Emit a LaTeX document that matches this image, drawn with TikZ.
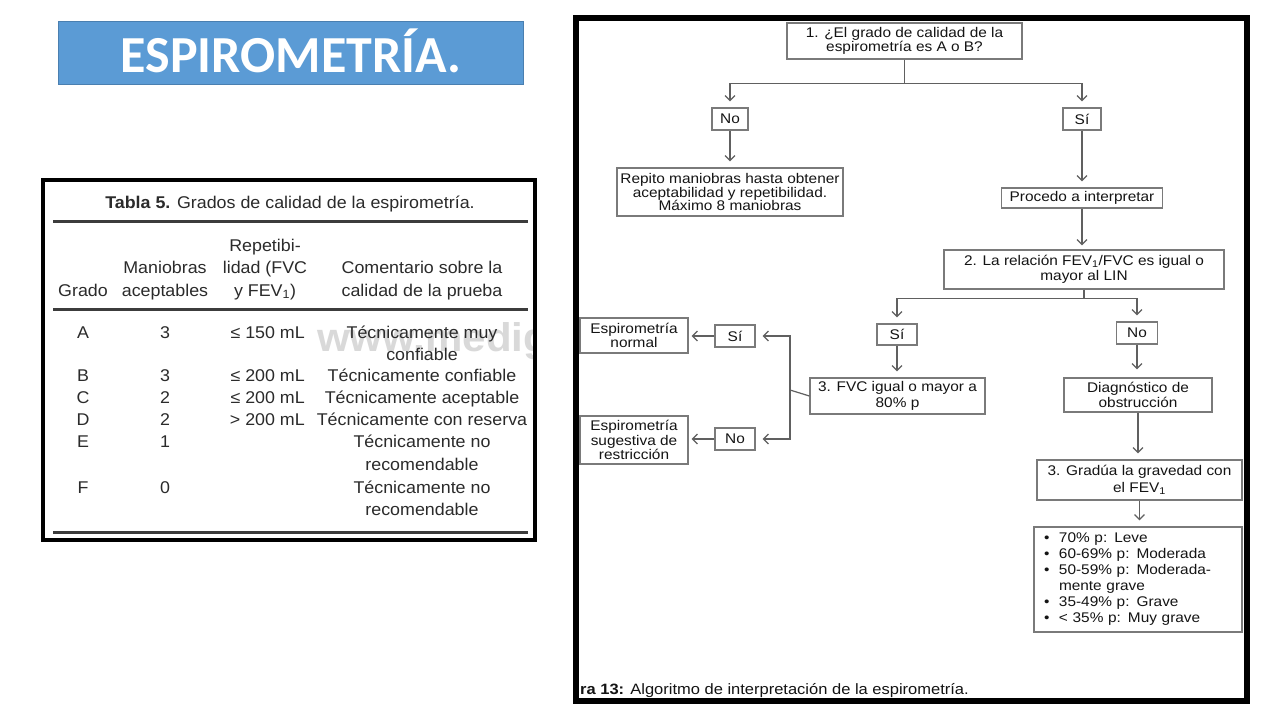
\documentclass[tikz,border=0pt]{standalone}
\usepackage{fontspec}
\setmainfont{Liberation Sans}
\newfontfamily\ff[FakeStretch=1.1]{Liberation Sans}
\newfontfamily\tf[FakeStretch=1.05]{Liberation Sans}
\newfontfamily\calib{Carlito}
\usetikzlibrary{arrows.meta}
\definecolor{titleblue}{HTML}{5B9BD5}
\definecolor{titleborder}{HTML}{4A7FB0}
\definecolor{boxgray}{HTML}{7A7A7A}
\definecolor{linegray}{HTML}{606060}
\definecolor{txt}{HTML}{141414}
\definecolor{tabtxt}{HTML}{2B2B2B}
\definecolor{rulegray}{HTML}{3C3C3C}
\definecolor{wm}{HTML}{D9D9D9}
\newcommand\bl{\makebox[15pt][l]{\textbullet}}
\tikzset{
  fbox/.style={draw=boxgray, line width=1.2pt, fill=white, inner sep=0pt, align=center, text=txt, font=\ff\fontsize{14}{15}\selectfont},
  conn/.style={draw=linegray, line width=1.2pt},
  arr/.style={conn, -{Straight Barb[length=5pt,width=10pt]}, shorten >=6pt},
  tcell/.style={anchor=base, inner sep=0pt, text=tabtxt, font=\tf\fontsize{17}{22}\selectfont},
  tval/.style={tcell, anchor=base east},
}
\begin{document}
\begin{tikzpicture}[x=1pt,y=-1pt]
\useasboundingbox (0,0) rectangle (1280,720);
\fill[white] (0,0) rectangle (1280,720);

% ---------- title ----------
\node[fill=titleblue, draw=titleborder, line width=0.8pt, minimum width=465pt, minimum height=63pt,
      inner sep=0pt, text height=40pt, text depth=0pt, text=white,
      font=\calib\bfseries\fontsize{52}{58}\selectfont] (title) at (291,52.5) {ESPIROMETRÍA.};

% ---------- table ----------
\begin{scope}
  \clip (45,182) rectangle (533,538);
  \node[anchor=base west, inner sep=0pt, text=wm, font=\tf\bfseries\fontsize{40}{44}\selectfont] (wmark) at (317,351) {www.medig};
\end{scope}
\draw[line width=4pt] (43,180) rectangle (535,540);
\draw[rulegray, line width=3pt] (53,221.5) -- (528,221.5);
\draw[rulegray, line width=2.5pt] (53,309.5) -- (528,309.5);
\draw[rulegray, line width=3pt] (53,532) -- (528,532);

\node[tcell] (tt) at (290,208) {\textbf{Tabla 5.} Grados de calidad de la espirometría.};
\node[tcell] (h2a) at (265,251) {Repetibi-};
\node[tcell] (h1a) at (165,273) {Maniobras};
\node[tcell] (h2b) at (265,273) {lidad (FVC};
\node[tcell] (h3a) at (422,273) {Comentario sobre la};
\node[tcell] (h0) at (83,296) {Grado};
\node[tcell] (h1b) at (165,296) {aceptables};
\node[tcell] (h2c) at (265,296) {y FEV\textsubscript{1})};
\node[tcell] (h3b) at (422,296) {calidad de la prueba};

\node[tcell] (ga) at (83,338) {A};
\node[tcell] (ma) at (165,338) {3};
\node[tval]  (ra) at (305,338) {≤ 150 mL};
\node[tcell] (ca) at (422,338) {Técnicamente muy};
\node[tcell] (ca2) at (422,360) {confiable};

\node[tcell] (gb) at (83,381) {B};
\node[tcell] (mb) at (165,381) {3};
\node[tval]  (rb) at (305,381) {≤ 200 mL};
\node[tcell] (cb) at (422,381) {Técnicamente confiable};

\node[tcell] (gc) at (83,403) {C};
\node[tcell] (mc) at (165,403) {2};
\node[tval]  (rc) at (305,403) {≤ 200 mL};
\node[tcell] (cc) at (422,403) {Técnicamente aceptable};

\node[tcell] (gd) at (83,425) {D};
\node[tcell] (md) at (165,425) {2};
\node[tval]  (rd) at (305,425) {> 200 mL};
\node[tcell] (cd) at (422,425) {Técnicamente con reserva};

\node[tcell] (ge) at (83,447) {E};
\node[tcell] (me) at (165,447) {1};
\node[tcell] (ce) at (422,447) {Técnicamente no};
\node[tcell] (ce2) at (422,470) {recomendable};

\node[tcell] (gf) at (83,493) {F};
\node[tcell] (mf) at (165,493) {0};
\node[tcell] (cf) at (422,493) {Técnicamente no};
\node[tcell] (cf2) at (422,515) {recomendable};

% ---------- flowchart ----------
\node[fbox, minimum width=235pt, minimum height=36pt, font=\ff\fontsize{14}{14}\selectfont] (q1) at (904.5,41) {1. ¿El grado de calidad de la\\espirometría es A o B?};
\node[fbox, minimum width=36pt, minimum height=22pt] (no1) at (730,119) {No};
\node[fbox, minimum width=38pt, minimum height=22pt] (si1) at (1082,119) {Sí};
\node[fbox, minimum width=226pt, minimum height=48pt, font=\ff\fontsize{14}{13.5}\selectfont] (rep) at (730,192) {Repito maniobras hasta obtener\\aceptabilidad y repetibilidad.\\Máximo 8 maniobras};
\node[fbox, minimum width=161pt, minimum height=20pt] (proc) at (1082,198) {Procedo a interpretar};
\node[fbox, minimum width=280pt, minimum height=39pt] (q2) at (1084,269.5) {2. La relación FEV\textsubscript{1}/FVC es igual o\\mayor al LIN};
\node[fbox, minimum width=40pt, minimum height=21pt] (si2) at (897,334.5) {Sí};
\node[fbox, minimum width=41pt, minimum height=22pt] (no2) at (1137,333) {No};
\node[fbox, minimum width=175pt, minimum height=36pt, font=\ff\fontsize{14}{16}\selectfont] (fvc) at (897.5,396) {3. FVC igual o mayor a\\80\% p};
\node[fbox, minimum width=148pt, minimum height=34pt] (diag) at (1138,395) {Diagnóstico de\\obstrucción};
\node[fbox, minimum width=205pt, minimum height=40pt, font=\ff\fontsize{14}{17}\selectfont] (q3) at (1139.5,480) {3. Gradúa la gravedad con\\el FEV\textsubscript{1}};
\node[fbox, align=left, text width=188pt, inner xsep=10pt, minimum height=105pt, font=\ff\fontsize{14}{16}\selectfont] (list) at (1138,579.5)
  {\bl 70\% p: Leve\\\bl 60-69\% p: Moderada\\\bl 50-59\% p: Moderada-\\\hspace*{15pt}mente grave\\\bl 35-49\% p: Grave\\\bl < 35\% p: Muy grave};
\node[fbox, minimum width=40pt, minimum height=22pt] (sil) at (735,336) {Sí};
\node[fbox, minimum width=40pt, minimum height=22pt] (nol) at (735,439) {No};
\node[fbox, minimum width=108pt, minimum height=35pt, font=\ff\fontsize{14}{14}\selectfont] (espn) at (634,335.5) {Espirometría\\normal};
\node[fbox, minimum width=108pt, minimum height=48pt, font=\ff\fontsize{14}{12.5}\selectfont] (espr) at (634,440) {Espirometría\\sugestiva de\\restricción};

% connectors
\path (q1.south) ++(0,24) coordinate (j1);
\draw[conn] (q1.south) -- (j1);
\draw[arr] (j1) -| (no1);
\draw[arr] (j1) -| (si1);
\draw[arr] (no1.south) -- (no1.south |- rep.north);
\draw[arr] (si1.south) -- (si1.south |- proc.north);
\draw[arr, shorten >=4pt] (proc.south) -- (proc.south |- q2.north);
\path (q2.south) ++(0,9) coordinate (j2);
\draw[conn] (q2.south) -- (j2);
\draw[arr] (j2) -| (si2);
\draw[arr] (j2) -| (no2);
\draw[arr] (si2.south) -- (si2.south |- fvc.north);
\draw[arr, shorten >=8pt] (no2.south) -- (no2.south |- diag.north);
\draw[arr] (diag.south) -- (diag.south |- q3.north);
\draw[arr] (q3.south) -- (q3.south |- list.north);
\coordinate (jf) at (790,390);
\draw[conn] (fvc.west) -- (jf);
\draw[arr, shorten >=7pt] (jf) |- (sil);
\draw[arr, shorten >=7pt] (jf) |- (nol);
\draw[arr, shorten >=3pt] (sil.west) -- (sil.west -| espn.east);
\draw[arr, shorten >=3pt] (nol.west) -- (nol.west -| espr.east);

% caption
\node[anchor=base west, inner sep=0pt, text=txt, font=\ff\fontsize{15}{18}\selectfont] (cap) at (580,694) {\textbf{ra 13:} Algoritmo de interpretación de la espirometría.};

% frame
\draw[line width=6pt] (576,17.5) rectangle (1247,701);
\end{tikzpicture}
\end{document}
